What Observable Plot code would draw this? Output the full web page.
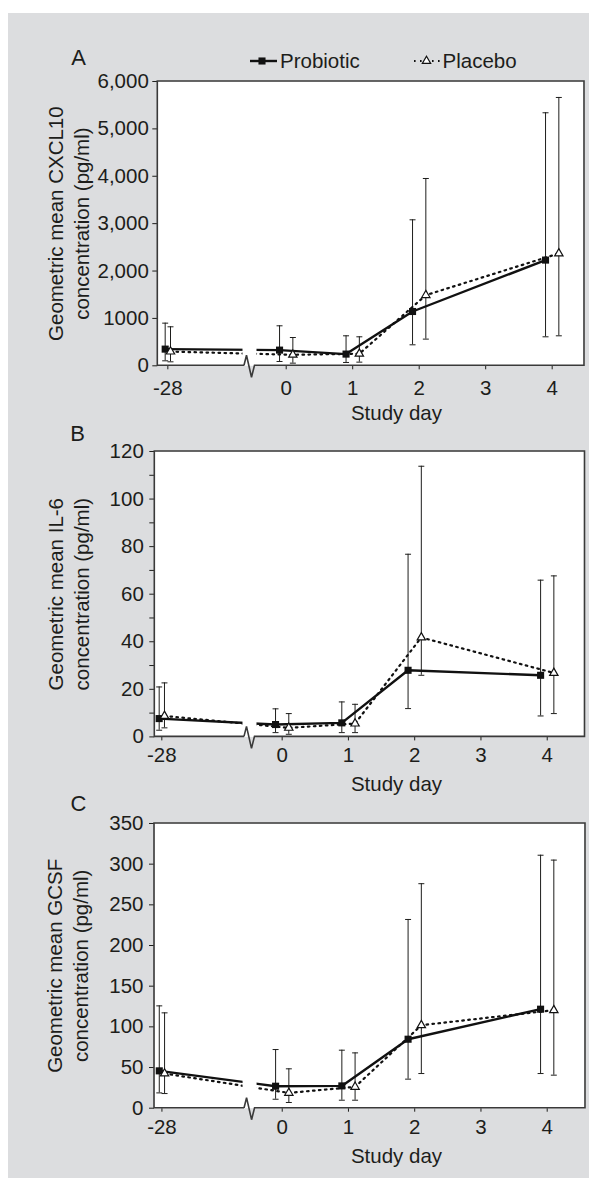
<!DOCTYPE html>
<html><head><meta charset="utf-8">
<script src="https://cdn.jsdelivr.net/npm/d3@7"></script>
<script src="https://cdn.jsdelivr.net/npm/@observablehq/plot@0.6"></script>
<style>
body{margin:0;background:#fff;}
#page{position:relative;width:597px;height:1189px;overflow:hidden;background:#fff;font-family:"Liberation Sans",Arial,Helvetica,sans-serif;color:#1d1d1b;}
#bg{position:absolute;left:8px;top:13px;width:581px;height:1165px;background:#dcdddf;}
.panel{position:absolute;left:0;}
.lg{position:absolute;font-size:20.5px;line-height:24px;white-space:nowrap;}
.sw{position:absolute;overflow:visible;}
</style></head><body>
<div id="page"><div id="bg"></div></div>
<script>
// ---------- data ----------
const days = [-28, 0, 1, 2, 4];
const xTickDays = [-28, 0, 1, 2, 3, 4];
const xTickLabels = ["-28", "0", "1", "2", "3", "4"];
const groups = ["Probiotic", "Placebo"];

// Panel A: CXCL10 (pg/ml)
const probioticCXCL10   = [352, 331, 247, 1146, 2231];
const probioticCXCL10Lo = [105, 91, 70, 443, 612];
const probioticCXCL10Hi = [900, 844, 633, 3081, 5340];
const placeboCXCL10     = [300, 232, 255, 1491, 2371];
const placeboCXCL10Lo   = [84, 56, 77, 563, 633];
const placeboCXCL10Hi   = [823, 597, 612, 3953, 5663];
const cxcl10Ticks = [0, 1000, 2000, 3000, 4000, 5000, 6000];
const cxcl10TickLabels = ["0", "1000", "2,000", "3,000", "4,000", "5,000", "6,000"];

// Panel B: IL-6 (pg/ml)
const probioticIL6   = [7.7, 5.2, 5.9, 28.0, 25.9];
const probioticIL6Lo = [2.8, 1.8, 1.8, 11.9, 8.8];
const probioticIL6Hi = [21.0, 11.8, 14.7, 76.8, 65.9];
const placeboIL6     = [8.8, 3.8, 5.6, 41.8, 26.9];
const placeboIL6Lo   = [3.8, 1.1, 1.8, 25.9, 9.8];
const placeboIL6Hi   = [22.7, 9.8, 13.7, 113.8, 67.7];
const il6Ticks = [0, 10, 20, 30, 40, 50, 60, 70, 80, 90, 100, 110, 120];
const il6TickLabels = ["0", "", "20", "", "40", "", "60", "", "80", "", "100", "", "120"];

// Panel C: GCSF (pg/ml)
const probioticGCSF   = [45.9, 27.0, 27.4, 84.8, 121.7];
const probioticGCSFLo = [18.8, 11.0, 9.8, 35.7, 42.6];
const probioticGCSFHi = [125.8, 72.1, 71.3, 232, 311];
const placeboGCSF     = [42.6, 18.8, 26.2, 102, 120.5];
const placeboGCSFLo   = [18.0, 7.0, 9.8, 42.6, 40.6];
const placeboGCSFHi   = [117.2, 48.4, 68.0, 276, 305];
const gcsfTicks = [0, 50, 100, 150, 200, 250, 300, 350];
const gcsfTickLabels = ["0", "50", "100", "150", "200", "250", "300", "350"];

// ---------- layout ----------
const FONT = '"Liberation Sans", Arial, Helvetica, sans-serif';
const INK = "#1d1d1b";
const FRAME = "#3a3a3a";
const DOTS = "1.6,4.4";

const panels = [
  {letter: "A", title: "Geometric mean CXCL10\nconcentration (pg/ml)",
   series: [[probioticCXCL10, probioticCXCL10Lo, probioticCXCL10Hi], [placeboCXCL10, placeboCXCL10Lo, placeboCXCL10Hi]],
   yTicks: cxcl10Ticks, yTickLabels: cxcl10TickLabels,
   L: {top: 20.7, mt: 60, fh: 284.3, ml: 157.3, mr: 13, xd: [-1.931, 4.486], pos28: -1.78, brk: -0.537,
       yPad: 4, xPad: 11, titleDx: -90, letterDx: -79.3, letterDy: -24, studyDx: 25.3}},
  {letter: "B", title: "Geometric mean IL-6\nconcentration (pg/ml)",
   series: [[probioticIL6, probioticIL6Lo, probioticIL6Hi], [placeboIL6, placeboIL6Lo, placeboIL6Hi]],
   yTicks: il6Ticks, yTickLabels: il6TickLabels,
   L: {top: 391.3, mt: 60, fh: 285.4, ml: 154.3, mr: 12.5, xd: [-1.922, 4.570], pos28: -1.816, brk: -0.478,
       yPad: 6, xPad: 7, titleDx: -87, letterDx: -77.3, letterDy: -17.8, studyDx: 26.6}},
  {letter: "C", title: "Geometric mean GCSF\nconcentration (pg/ml)",
   series: [[probioticGCSF, probioticGCSFLo, probioticGCSFHi], [placeboGCSF, placeboGCSFLo, placeboGCSFHi]],
   yTicks: gcsfTicks, yTickLabels: gcsfTickLabels,
   L: {top: 763.3, mt: 60, fh: 284.7, ml: 154, mr: 12, xd: [-1.928, 4.578], pos28: -1.816, brk: -0.478,
       yPad: 6, xPad: 7, titleDx: -87.5, letterDx: -76, letterDy: -19.8, studyDx: 26.5}}
];

const page = document.getElementById("page");

for (const p of panels) {
  const L = p.L;
  const dayPos = d => d === -28 ? L.pos28 : d;
  const rows = [];
  groups.forEach((g, gi) => {
    const [v, lo, hi] = p.series[gi];
    days.forEach((d, i) => {
      const off = d === -28 ? 0.04 : 0.1;
      rows.push({group: g, day: d, pos: dayPos(d) + (gi === 0 ? -off : off), value: v[i], lo: lo[i], hi: hi[i]});
    });
  });
  const caps = rows.flatMap(r => [{pos: r.pos, v: r.lo}, {pos: r.pos, v: r.hi}]);
  const capHalf = 0.045;
  const prob = rows.filter(r => r.group === "Probiotic");
  const plac = rows.filter(r => r.group === "Placebo");
  const xTickPos = xTickDays.map(dayPos);
  const xLab = new Map(xTickPos.map((t, i) => [t, xTickLabels[i]]));
  const yLab = new Map(p.yTicks.map((t, i) => [t, p.yTickLabels[i]]));
  const yMax = p.yTicks[p.yTicks.length - 1];
  const height = L.mt + L.fh + 75;

  const chart = Plot.plot({
    width: 597,
    height,
    marginTop: L.mt,
    marginBottom: 75,
    marginLeft: L.ml,
    marginRight: L.mr,
    style: {background: "transparent", fontSize: "20.5px", fontFamily: FONT, color: INK, overflow: "visible"},
    x: {domain: L.xd, ticks: xTickPos, tickFormat: d => xLab.get(d), tickSize: 4, tickPadding: L.xPad, label: null},
    y: {domain: [0, yMax], ticks: p.yTicks, tickFormat: d => yLab.get(d), tickSize: 5, tickPadding: L.yPad, label: null},
    marks: [
      Plot.frame({fill: "white", stroke: "none"}),
      Plot.ruleX(rows, {x: "pos", y1: "lo", y2: "hi", stroke: INK, strokeWidth: 1}),
      Plot.link(caps, {x1: d => d.pos - capHalf, x2: d => d.pos + capHalf, y1: "v", y2: "v", stroke: INK, strokeWidth: 1}),
      Plot.line(prob, {x: "pos", y: "value", stroke: "#111", strokeWidth: 2.4}),
      Plot.line(plac, {x: "pos", y: "value", stroke: "#111", strokeWidth: 2.2, strokeDasharray: DOTS}),
      Plot.dot(prob, {x: "pos", y: "value", symbol: "square", r: 4, fill: "#111", stroke: "none"}),
      Plot.dot(plac, {x: "pos", y: "value", symbol: "triangle", r: 3.1, fill: "white", stroke: "#111", strokeWidth: 1.2}),
      (index, scales, values, dimensions) => {
        const {width: W, marginLeft, marginRight, marginTop} = dimensions;
        const x0 = marginLeft, x1 = W - marginRight, t = marginTop, b = scales.y(0);
        const bx = scales.x(L.brk);
        const g = d3.create("svg:g");
        g.append("rect").attr("x", bx - 7.5).attr("y", t + 1.2).attr("width", 14).attr("height", b - t - 2)
          .attr("fill", "white");
        g.append("path")
          .attr("d", `M${bx - 6},${b}L${x0},${b}L${x0},${t}L${x1},${t}L${x1},${b}L${bx + 4.5},${b}L${bx + 1.5},${b + 12}L${bx - 3.5},${b - 10}L${bx - 6},${b}`)
          .attr("fill", "none").attr("stroke", FRAME).attr("stroke-width", 1.6).attr("stroke-linejoin", "miter");
        return g.node();
      },
      Plot.text([p.title], {frameAnchor: "left", dx: L.titleDx, rotate: -90, textAnchor: "middle", lineAnchor: "middle", lineHeight: 1.27, fill: INK}),
      Plot.text([p.letter], {frameAnchor: "top-left", dx: L.letterDx, dy: L.letterDy, textAnchor: "middle", lineAnchor: "middle", fontSize: 22, fill: INK}),
      Plot.text(["Study day"], {frameAnchor: "bottom", dx: L.studyDx, dy: 40, textAnchor: "middle", lineAnchor: "top", fill: INK})
    ]
  });
  chart.classList.add("panel");
  chart.style.top = L.top + "px";
  chart.style.left = "0px";
  chart.style.position = "absolute";
  page.appendChild(chart);
}

// ---------- legend (panel A) ----------
const ns = "http://www.w3.org/2000/svg";
function swatch(left, dotted) {
  const s = document.createElementNS(ns, "svg");
  s.setAttribute("class", "sw");
  s.setAttribute("width", 32); s.setAttribute("height", 16);
  s.style.left = left + "px"; s.style.top = "52.7px";
  const ln = document.createElementNS(ns, "line");
  ln.setAttribute("x1", 2); ln.setAttribute("x2", 29); ln.setAttribute("y1", 8); ln.setAttribute("y2", 8);
  ln.setAttribute("stroke", "#111"); ln.setAttribute("stroke-width", dotted ? 2.2 : 2.4);
  if (dotted) ln.setAttribute("stroke-dasharray", DOTS);
  s.appendChild(ln);
  const sym = document.createElementNS(ns, "path");
  sym.setAttribute("d", d3.symbol(dotted ? d3.symbolTriangle : d3.symbolSquare, dotted ? Math.PI * 3.1 * 3.1 : Math.PI * 16)());
  sym.setAttribute("transform", `translate(${dotted ? 14.5 : 14},8)`);
  sym.setAttribute("fill", dotted ? "white" : "#111");
  if (dotted) { sym.setAttribute("stroke", "#111"); sym.setAttribute("stroke-width", 1.2); }
  s.appendChild(sym);
  page.appendChild(s);
}
function label(left, text) {
  const d = document.createElement("div");
  d.className = "lg"; d.textContent = text;
  d.style.left = left + "px"; d.style.top = "49px";
  page.appendChild(d);
}
swatch(248, false); label(280, groups[0]);
swatch(412, true); label(442.5, groups[1]);
</script>
</body></html>
